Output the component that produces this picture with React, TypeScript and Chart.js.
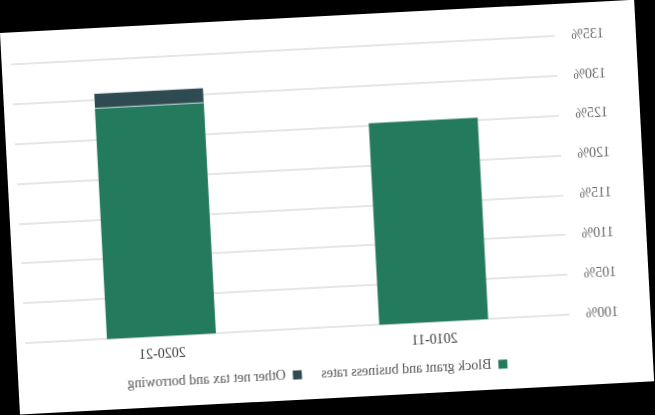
import React, { useEffect, useRef } from "react";
import { Chart, registerables } from "chart.js";

Chart.register(...registerables);

const categories = ["2010-11", "2020-21"];
const blockGrant = [125.3, 128.9];
const otherNetTax = [null, 1.9];
const seriesLabels = ["Block grant and business rates", "Other net tax and borrowing"];
const seriesColors = ["#237a5c", "#2e4b52"];
const yMin = 100;
const yMax = 135;
const yStep = 5;

const FONT = "'Liberation Serif', 'Times New Roman', serif";
const NBSP = "\u00a0";

export default function App() {
  const ref = useRef<HTMLCanvasElement | null>(null);

  useEffect(() => {
    if (!ref.current) return;
    const chart = new Chart(ref.current, {
      type: "bar",
      data: {
        labels: categories,
        datasets: [
          {
            label: seriesLabels[0],
            data: blockGrant,
            backgroundColor: seriesColors[0],
            borderWidth: 0,
          },
          {
            label: seriesLabels[1],
            data: otherNetTax as any,
            backgroundColor: seriesColors[1],
            borderColor: "rgba(150,190,180,0.9)",
            borderWidth: { top: 0, left: 0, right: 0, bottom: 1 },
            borderSkipped: false,
          },
        ],
      },
      options: {
        responsive: false,
        animation: false,
        layout: { padding: { top: 32, bottom: 8, left: 0, right: 5 } },
        datasets: { bar: { categoryPercentage: 0.8, barPercentage: 0.5 } },
        scales: {
          x: {
            stacked: true,
            grid: { display: false, drawTicks: false },
            border: { display: false },
            ticks: { color: "#3a3a3a", font: { family: FONT, size: 14 }, padding: 10 },
          },
          y: {
            stacked: true,
            min: yMin,
            max: yMax,
            grid: { color: "#e6e6e6", lineWidth: 2, drawTicks: false },
            border: { display: false },
            ticks: {
              stepSize: yStep,
              padding: 16,
              color: "#666666",
              font: { family: FONT, size: 14 },
              callback: (v: any) => v + "%",
            },
          },
        },
        plugins: {
          tooltip: { enabled: false },
          legend: {
            position: "bottom",
            fullSize: false,
            labels: {
              boxWidth: 9,
              boxHeight: 9,
              padding: 2,
              color: "#555555",
              font: { family: FONT, size: 14 },
              generateLabels: (c: any) => {
                const items = Chart.defaults.plugins.legend.labels.generateLabels(c);
                return items.map((it: any, i: number) => ({
                  ...it,
                  lineWidth: 0,
                  text: it.text + NBSP.repeat(i === 0 ? 5 : 10),
                }));
              },
            },
          },
        },
      },
    });
    return () => chart.destroy();
  }, []);

  return (
    <div style={{ position: "fixed", left: 0, top: 0, width: 655, height: 415, background: "#000", overflow: "hidden" }}>
      <div
        style={{
          position: "absolute",
          left: 0,
          top: 33,
          width: 635,
          height: 382,
          background: "#fff",
          transformOrigin: "0 0",
          transform: "rotate(-3deg)",
        }}
      >
        <div style={{ position: "absolute", left: 0, top: 0, width: 635, height: 382, transform: "scaleX(-1)" }}>
          <canvas ref={ref} width={615} height={382} style={{ position: "absolute", left: 16, top: 0 }} />
        </div>
      </div>
    </div>
  );
}
